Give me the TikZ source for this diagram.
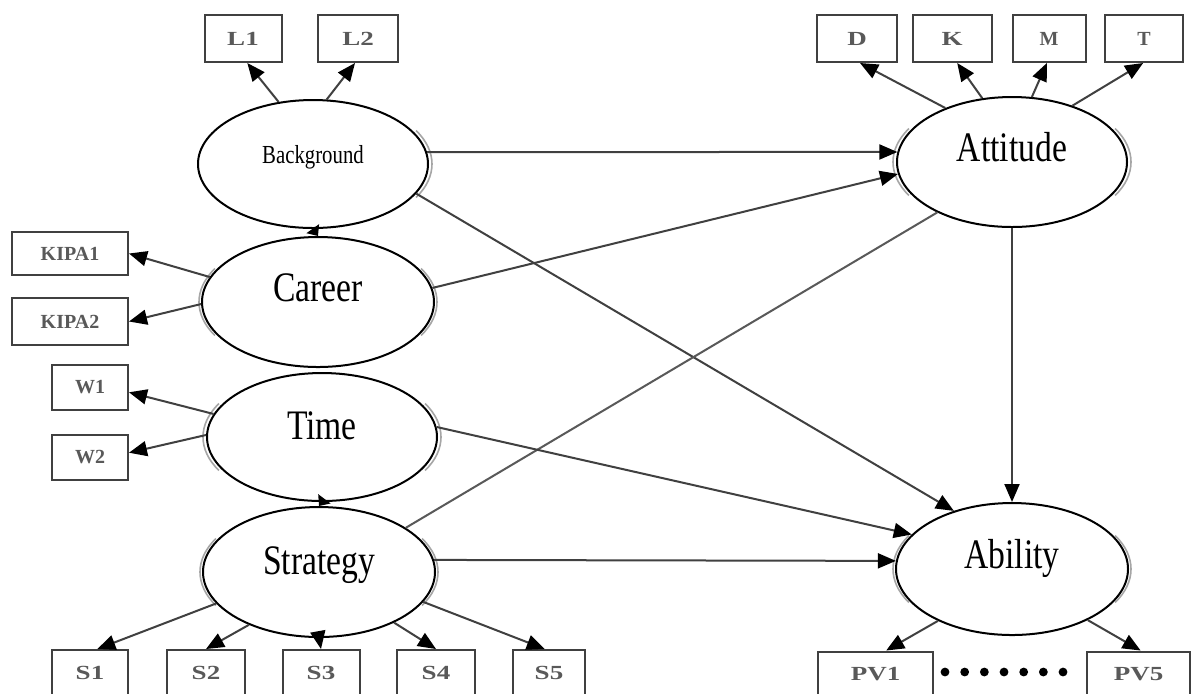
\documentclass[tikz,border=0pt]{standalone}
\usepackage{fontspec}
\setmainfont{Liberation Serif}
\usepackage{graphicx}
\usetikzlibrary{shapes.geometric,arrows.meta}
\newcommand{\nar}[1]{\scalebox{0.8}[1]{#1}}
\newcommand{\wid}[1]{\scalebox{1.35}[1]{#1}}
\tikzset{
  lat/.style={ellipse, draw=black, line width=1pt, fill=white, inner sep=0pt,
              minimum width=116pt, minimum height=65pt},
  ltxt/.style={font=\fontsize{21}{21}\selectfont, text height=15pt, text depth=5pt, inner sep=0pt},
  stxt/.style={font=\fontsize{13}{13}\selectfont, text height=9pt, text depth=3pt, inner sep=0pt},
  obs/.style={rectangle, draw=black!75, line width=1pt, fill=white, inner sep=0pt,
              minimum height=23.5pt, text=black!65,
              font=\fontsize{10}{10}\selectfont\bfseries},
  conn/.style={draw=black!75, line width=1pt, -{Triangle[length=9pt,width=7.5pt,color=black]}},
  shortconn/.style={draw=black!75, line width=1pt, -{Triangle[length=4.5pt,width=7.5pt,color=black]}},
  plainline/.style={draw=black!65, line width=1pt},
  ghost/.style={draw=black!35, line width=0.8pt},
}
\begin{document}
\begin{tikzpicture}[x=0.5pt,y=-0.5pt]
\useasboundingbox[fill=white] (0,0) rectangle (1193,693);

% latent variables
\node[lat, minimum width=115pt, minimum height=64pt, label={[stxt,yshift=3.2pt]center:\nar{Background}}] (bg) at (313,164) {};
\node[lat, label={[ltxt,yshift=5.1pt]center:\nar{Career}}] (car) at (318,302) {};
\node[lat, minimum width=115pt, minimum height=64pt, label={[ltxt,yshift=3.6pt]center:\nar{Time}}] (time) at (322,437) {};
\node[lat, label={[ltxt,yshift=3.6pt]center:\nar{Strategy}}] (str) at (319,572) {};
\node[lat, minimum width=115pt, label={[ltxt,yshift=5.1pt]center:\nar{Attitude}}] (att) at (1012,162) {};
\node[lat, minimum height=66pt, label={[ltxt,yshift=5.1pt]center:\nar{Ability}}] (abi) at (1012,569) {};

% observed variables
\node[obs, minimum width=38.5pt] (L1) at (243,38.5) {\wid{L1}};
\node[obs, minimum width=40pt] (L2) at (358,38.5) {\wid{L2}};
\node[obs, minimum width=40pt] (D) at (857,38.5) {\wid{D}};
\node[obs, minimum width=39.5pt] (K) at (952,38.5) {\wid{K}};
\node[obs, minimum width=36.5pt] (M) at (1049,38.5) {M};
\node[obs, minimum width=39pt] (T) at (1144,38.5) {T};
\node[obs, minimum width=58pt, minimum height=21.5pt] (KIPA1) at (70,253.5) {KIPA1};
\node[obs, minimum width=58pt] (KIPA2) at (70,321.5) {KIPA2};
\node[obs, minimum width=38pt, minimum height=22.5pt] (W1) at (90,387.5) {W1};
\node[obs, minimum width=38pt, minimum height=22.5pt] (W2) at (90,457.5) {W2};
\node[obs, minimum width=38pt, minimum height=23pt] (S1) at (90,673) {\wid{S1}};
\node[obs, minimum width=39pt, minimum height=23pt] (S2) at (206,673) {\wid{S2}};
\node[obs, minimum width=38.5pt, minimum height=23pt] (S3) at (321,673) {\wid{S3}};
\node[obs, minimum width=39pt, minimum height=23pt] (S4) at (436,673) {\wid{S4}};
\node[obs, minimum width=36pt, minimum height=23pt] (S5) at (549,673) {\wid{S5}};
\node[obs, minimum width=57.5pt, minimum height=23pt] (PV1) at (875.5,674.5) {\wid{PV1}};
\node[obs, minimum width=51.5pt, minimum height=23pt] (PV5) at (1138.5,674.5) {\wid{PV5}};

% dots between PV1 and PV5
\foreach \i in {0,...,6} \fill[black] ({945+\i*19.67},672) circle (2.2pt);

% ghost outlines on the sides of the ellipses
\foreach \n in {car,time,str,att,abi}{
  \draw[ghost] (\n.center) ++(150:59.5pt and 33.5pt) arc[start angle=150,end angle=210,x radius=59.5pt,y radius=33.5pt];
}
\foreach \n in {bg,car,time,str,att,abi}{
  \draw[ghost] (\n.center) ++(-30:59.5pt and 33.5pt) arc[start angle=-30,end angle=30,x radius=59.5pt,y radius=33.5pt];
}

% measurement arrows
\draw[conn] (bg.119) -- (L1.-80);
\draw[conn] (bg.78) -- (L2.-97);
\draw[conn] (att.141) -- (D.-83);
\draw[conn] (att.115) -- (K.-78);
\draw[conn] (att.73) -- (M.-95);
\draw[conn] (att.43) -- (T.-92);
\draw[conn] (car.167) -- (KIPA1.east);
\draw[conn] (car.181) -- (KIPA2.east);
\draw[conn] (time.168) -- (W1.-7);
\draw[conn] (time.179) -- (W2.7);
\draw[conn] (str.197) -- (S1.73);
\draw[conn] (str.217) -- (S2.north);
\draw[conn] (str.south) -- (S3.north);
\draw[conn] (str.-34) -- (S4.north);
\draw[conn] (str.-16) -- (S5.100);
\draw[conn] (abi.215) -- (PV1.66);
\draw[conn] (abi.-34) -- (PV5.85);

% structural paths
\draw[shortconn] (bg.south) -- (car.north);
\draw[shortconn] (time.south) -- (str.north);
\draw[conn] (bg.6) -- (att.175);
\draw[conn] (car.7) -- (att.186);
\draw[conn] (bg.-16) -- (abi.135);
\draw[plainline] (str.27) -- (att.214);
\draw[conn] (time.5) -- (abi.161);
\draw[conn] (str.6) -- (abi.176);
\draw[conn] (att.south) -- (abi.north);
\end{tikzpicture}
\end{document}
